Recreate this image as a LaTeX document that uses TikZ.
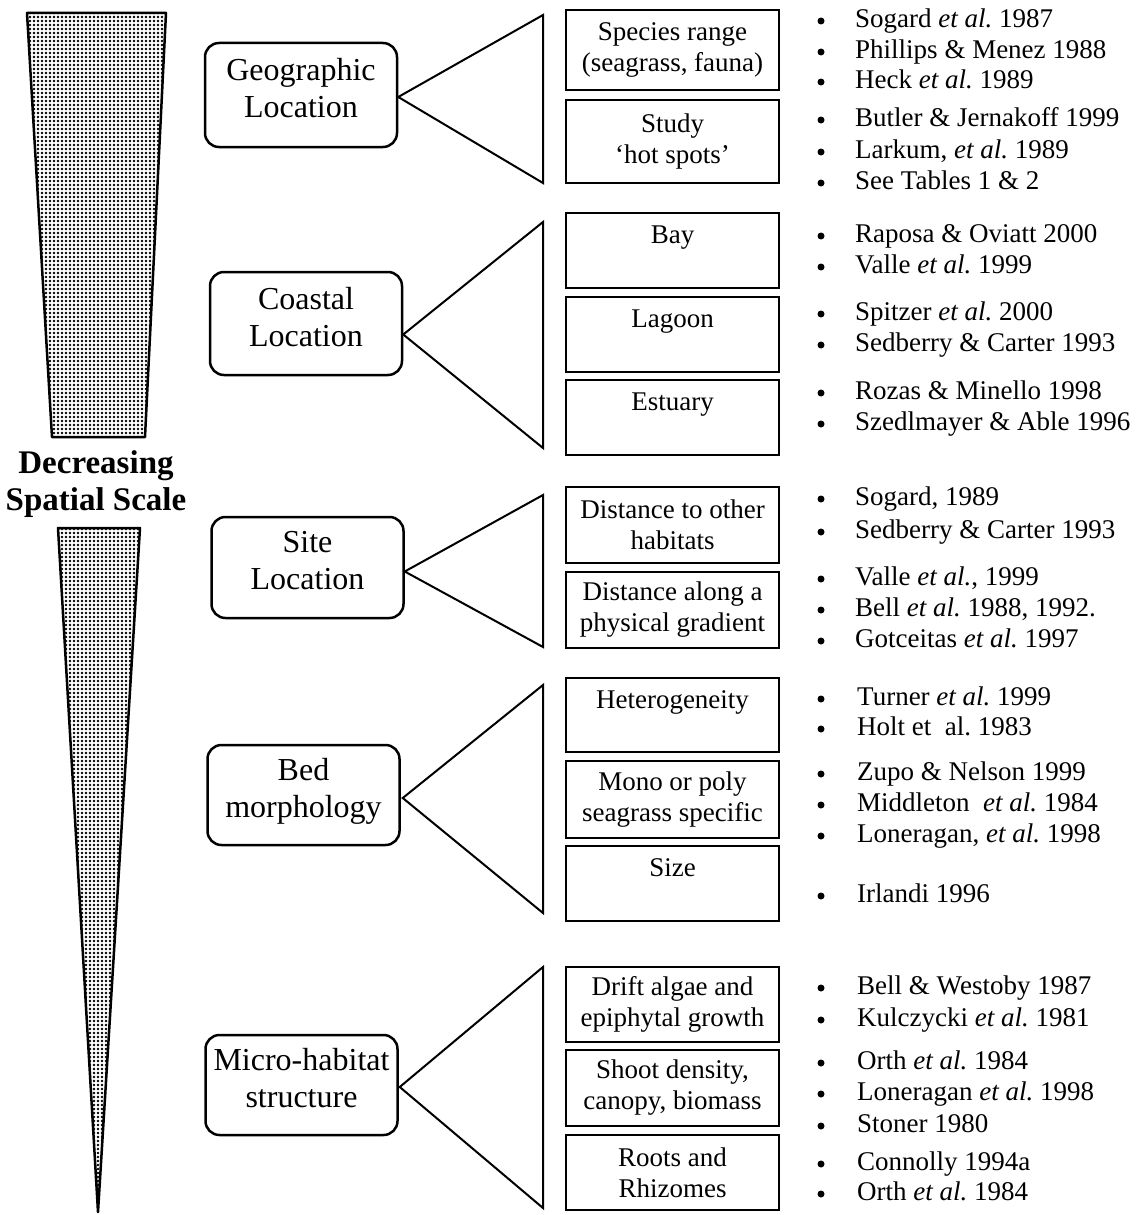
\documentclass[tikz,border=0pt]{standalone}
\usepackage{fontspec}
\setmainfont{Liberation Serif}
\usepackage{tikz}
\usetikzlibrary{calc,patterns}
\pgfdeclarepatternformonly{scaledots}{\pgfpoint{-1pt}{-1pt}}{\pgfpoint{4pt}{4pt}}{\pgfpoint{4pt}{4pt}}{\pgfpathcircle{\pgfpoint{2pt}{2pt}}{1.45pt}\pgfusepath{fill}}

\begin{document}
\begin{tikzpicture}[
        x=1pt, y=-1pt,
        scalebox/.style={draw, line width=2.5pt, rounded corners=14pt, align=center, inner sep=2pt, text depth=14pt, font=\fontsize{32}{37}\selectfont, minimum width=192pt, minimum height=101pt},
        itembox/.style={draw, line width=2.5pt, align=center, inner sep=2pt, font=\fontsize{27}{31}\selectfont, minimum width=213pt},
        fan/.style={line width=2pt},
        wedge/.style={draw, line width=2.5pt, line join=round, pattern=scaledots},
        ref/.style={anchor=west, inner sep=0pt, font=\fontsize{27}{31}\selectfont, text height=19pt, text depth=6pt},
        bul/.style={circle, fill, inner sep=0pt, minimum size=7pt}
      ]
        \useasboundingbox (0,0) rectangle (1143,1215);

        % scale wedge
        \path[wedge] (27,13) -- (166,13) -- (145,437) -- (52,437) -- cycle;
        \node[align=center, font=\bfseries\fontsize{33}{37}\selectfont] (scale) at (96,484) {Decreasing\\Spatial Scale};
        \path[wedge] (58,528) -- (140,528) -- (98,1212) -- cycle;

        % levels
        \node[scalebox, minimum height=104pt] (geo) at (301,95) {Geographic\\Location};
        \node[scalebox, minimum height=103pt] (coast) at (306,323.5) {Coastal\\Location};
        \node[scalebox] (site) at (307.5,567.5) {Site\\Location};
        \node[scalebox, minimum height=100pt] (bed) at (303.5,795) {Bed\\morphology};
        \node[scalebox, minimum height=100pt] (micro) at (301.5,1085) {Micro-habitat\\structure};

        % factors
        \node[itembox, minimum height=80pt] (spec) at (672.5,50) {Species range\\(seagrass, fauna)};
        \node[itembox, minimum height=83pt] (hot) at (672.5,141.5) {Study\\‘hot spots’};
        \node[itembox, minimum height=75pt] (bay) at (672.5,250.5) {Bay\\~};
        \node[itembox, minimum height=75pt] (lag) at (672.5,334.5) {Lagoon\\~};
        \node[itembox, minimum height=75pt] (est) at (672.5,417.5) {Estuary\\~};
        \node[itembox, minimum height=76pt] (dhab) at (672.5,525) {Distance to other\\habitats};
        \node[itembox, minimum height=76pt] (dgrad) at (672.5,610) {Distance along a\\physical gradient};
        \node[itembox, minimum height=74pt] (het) at (672.5,715) {Heterogeneity\\~};
        \node[itembox, minimum height=77pt] (mono) at (672.5,799.5) {Mono or poly\\seagrass specific};
        \node[itembox, minimum height=75pt] (size) at (672.5,883.5) {Size\\~};
        \node[itembox, minimum height=75pt] (drift) at (672.5,1004.5) {Drift algae and\\epiphytal growth};
        \node[itembox, minimum height=76pt] (shoot) at (672.5,1088) {Shoot density,\\canopy, biomass};
        \node[itembox, minimum height=75pt] (root) at (672.5,1172.5) {Roots and\\Rhizomes};

        % fans
        \coordinate (geoT) at (543,15);   \coordinate (geoB) at (543,183);
        \coordinate (coastT) at (543,222); \coordinate (coastB) at (543,448);
        \coordinate (siteT) at (543,495);  \coordinate (siteB) at (543,647);
        \coordinate (bedT) at (543,685);   \coordinate (bedB) at (543,913);
        \coordinate (microT) at (543,967); \coordinate (microB) at (543,1208);
        \draw[fan] ($(geo.east)+(0,2)$) -- (geoT) -- (geoB) -- cycle;
        \draw[fan] ($(coast.east)+(0,11)$) -- (coastT) -- (coastB) -- cycle;
        \draw[fan] ($(site.east)+(0,4)$) -- (siteT) -- (siteB) -- cycle;
        \draw[fan] ($(bed.east)+(2,3)$) -- (bedT) -- (bedB) -- cycle;
        \draw[fan] ($(micro.east)+(1,2)$) -- (microT) -- (microB) -- cycle;

        % references
        \foreach \y in {19,50,80,118,150,181,234,265,312,343,391,422,497,530,577,608,639,697,727,772,803,834,894,986,1018,1061,1092,1124,1162,1192}
          \node[bul] (b\y) at (821,\y+2) {};
        \node[ref] (r1) at (855,21) {Sogard \textit{et al.}\ 1987};
        \node[ref] (r2) at (855,52) {Phillips \& Menez 1988};
        \node[ref] (r3) at (855,82) {Heck \textit{et al.}\ 1989};
        \node[ref] (r4) at (855,120) {Butler \& Jernakoff 1999};
        \node[ref] (r5) at (855,152) {Larkum, \textit{et al.}\ 1989};
        \node[ref] (r6) at (855,183) {See Tables 1 \& 2};
        \node[ref] (r7) at (855,236) {Raposa \& Oviatt 2000};
        \node[ref] (r8) at (855,267) {Valle \textit{et al.}\ 1999};
        \node[ref] (r9) at (855,314) {Spitzer \textit{et al.}\ 2000};
        \node[ref] (r10) at (855,345) {Sedberry \& Carter 1993};
        \node[ref] (r11) at (855,393) {Rozas \& Minello 1998};
        \node[ref] (r12) at (855,424) {Szedlmayer \& Able 1996};
        \node[ref] (r13) at (855,499) {Sogard, 1989};
        \node[ref] (r14) at (855,532) {Sedberry \& Carter 1993};
        \node[ref] (r15) at (855,579) {Valle \textit{et al.}, 1999};
        \node[ref] (r16) at (855,610) {Bell \textit{et al.}\ 1988, 1992.};
        \node[ref] (r17) at (855,641) {Gotceitas \textit{et al.}\ 1997};
        \node[ref] (r18) at (857,699) {Turner \textit{et al.}\ 1999};
        \node[ref] (r19) at (857,729) {Holt et\ \ al.\ 1983};
        \node[ref] (r20) at (857,774) {Zupo \& Nelson 1999};
        \node[ref] (r21) at (857,805) {Middleton\ \ \textit{et al.}\ 1984};
        \node[ref] (r22) at (857,836) {Loneragan, \textit{et al.}\ 1998};
        \node[ref] (r23) at (857,896) {Irlandi 1996};
        \node[ref] (r24) at (857,988) {Bell \& Westoby 1987};
        \node[ref] (r25) at (857,1020) {Kulczycki \textit{et al.}\ 1981};
        \node[ref] (r26) at (857,1063) {Orth \textit{et al.}\ 1984};
        \node[ref] (r27) at (857,1094) {Loneragan \textit{et al.}\ 1998};
        \node[ref] (r28) at (857,1126) {Stoner 1980};
        \node[ref] (r29) at (857,1164) {Connolly 1994a};
        \node[ref] (r30) at (857,1194) {Orth \textit{et al.}\ 1984};
      \end{tikzpicture}
\end{document}
